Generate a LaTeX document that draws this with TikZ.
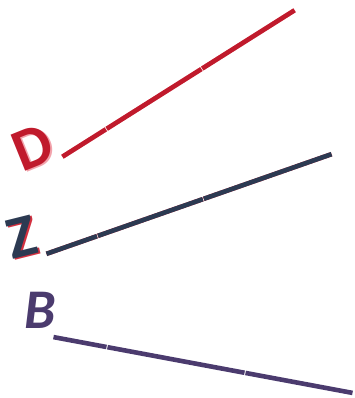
\documentclass[tikz,border=0pt]{standalone}
\usepackage{fontspec}
\setsansfont{Carlito}
\usepackage{tikz}
\usetikzlibrary{calc}
\definecolor{cRed}{HTML}{C01A2C}
\definecolor{cPink}{HTML}{F2A3AC}
\definecolor{cNavy}{HTML}{2C3A52}
\definecolor{cShade}{HTML}{D3303F}
\definecolor{cPlum}{HTML}{4B3B6E}
\tikzstyle{letter} = [inner sep=0pt, font=\sffamily\bfseries\fontsize{60}{60}\selectfont]
\tikzstyle{bar}    = [line width=4.6pt, line cap=butt, shorten <=0.5pt, shorten >=0.5pt]
\newcommand{\shaded}[2]{{\color{#1}\rlap{\hspace{2pt}\raisebox{-2pt}{#2}}}#2}

\begin{document}
\begin{tikzpicture}[x=1pt, y=-1pt]
\useasboundingbox (0,0) rectangle (355,398);

% end points and breaks of the three lines
\coordinate (dA) at (62,157);
\coordinate (dD) at (295,10);
\coordinate (dB) at ($(dA)!0.19!(dD)$);
\coordinate (dC) at ($(dA)!0.60!(dD)$);
\coordinate (zA) at (46,254);
\coordinate (zD) at (332,154);
\coordinate (zB) at ($(zA)!0.18!(zD)$);
\coordinate (zC) at ($(zA)!0.55!(zD)$);
\coordinate (bA) at (53,337);
\coordinate (bD) at (353,393);
\coordinate (bB) at ($(bA)!0.18!(bD)$);
\coordinate (bC) at ($(bA)!0.64!(bD)$);

% D
\node (letD) [letter, text=cRed, rotate=22] at (33,148) {\shaded{cPink}{D}};
\begin{scope}[shift={(1.5,1.5)}]
\draw [bar, cPink] (dA) -- (dB);
\draw [bar, cPink] (dB) -- (dC);
\draw [bar, cPink] (dC) -- (dD);
\end{scope}
\draw [bar, cRed] (dA) -- (dB);
\draw [bar, cRed] (dB) -- (dC);
\draw [bar, cRed] (dC) -- (dD);

% Z
\node (letZ) [letter, text=cNavy, rotate=14] at (22,238) {\shaded{cShade}{Z}};
\begin{scope}[shift={(1.5,2)}]
\draw [bar, cShade] (zA) -- (zB);
\draw [bar, cShade] (zB) -- (zC);
\draw [bar, cShade] (zC) -- (zD);
\end{scope}
\draw [bar, cNavy] (zA) -- (zB);
\draw [bar, cNavy] (zB) -- (zC);
\draw [bar, cNavy] (zC) -- (zD);

% B
\node (letB) [letter, text=cPlum, font=\sffamily\bfseries\itshape\fontsize{56}{56}\selectfont] at (40,310) {B};
\draw [bar, cPlum] (bA) -- (bB);
\draw [bar, cPlum] (bB) -- (bC);
\draw [bar, cPlum] (bC) -- (bD);
\end{tikzpicture}
\end{document}
